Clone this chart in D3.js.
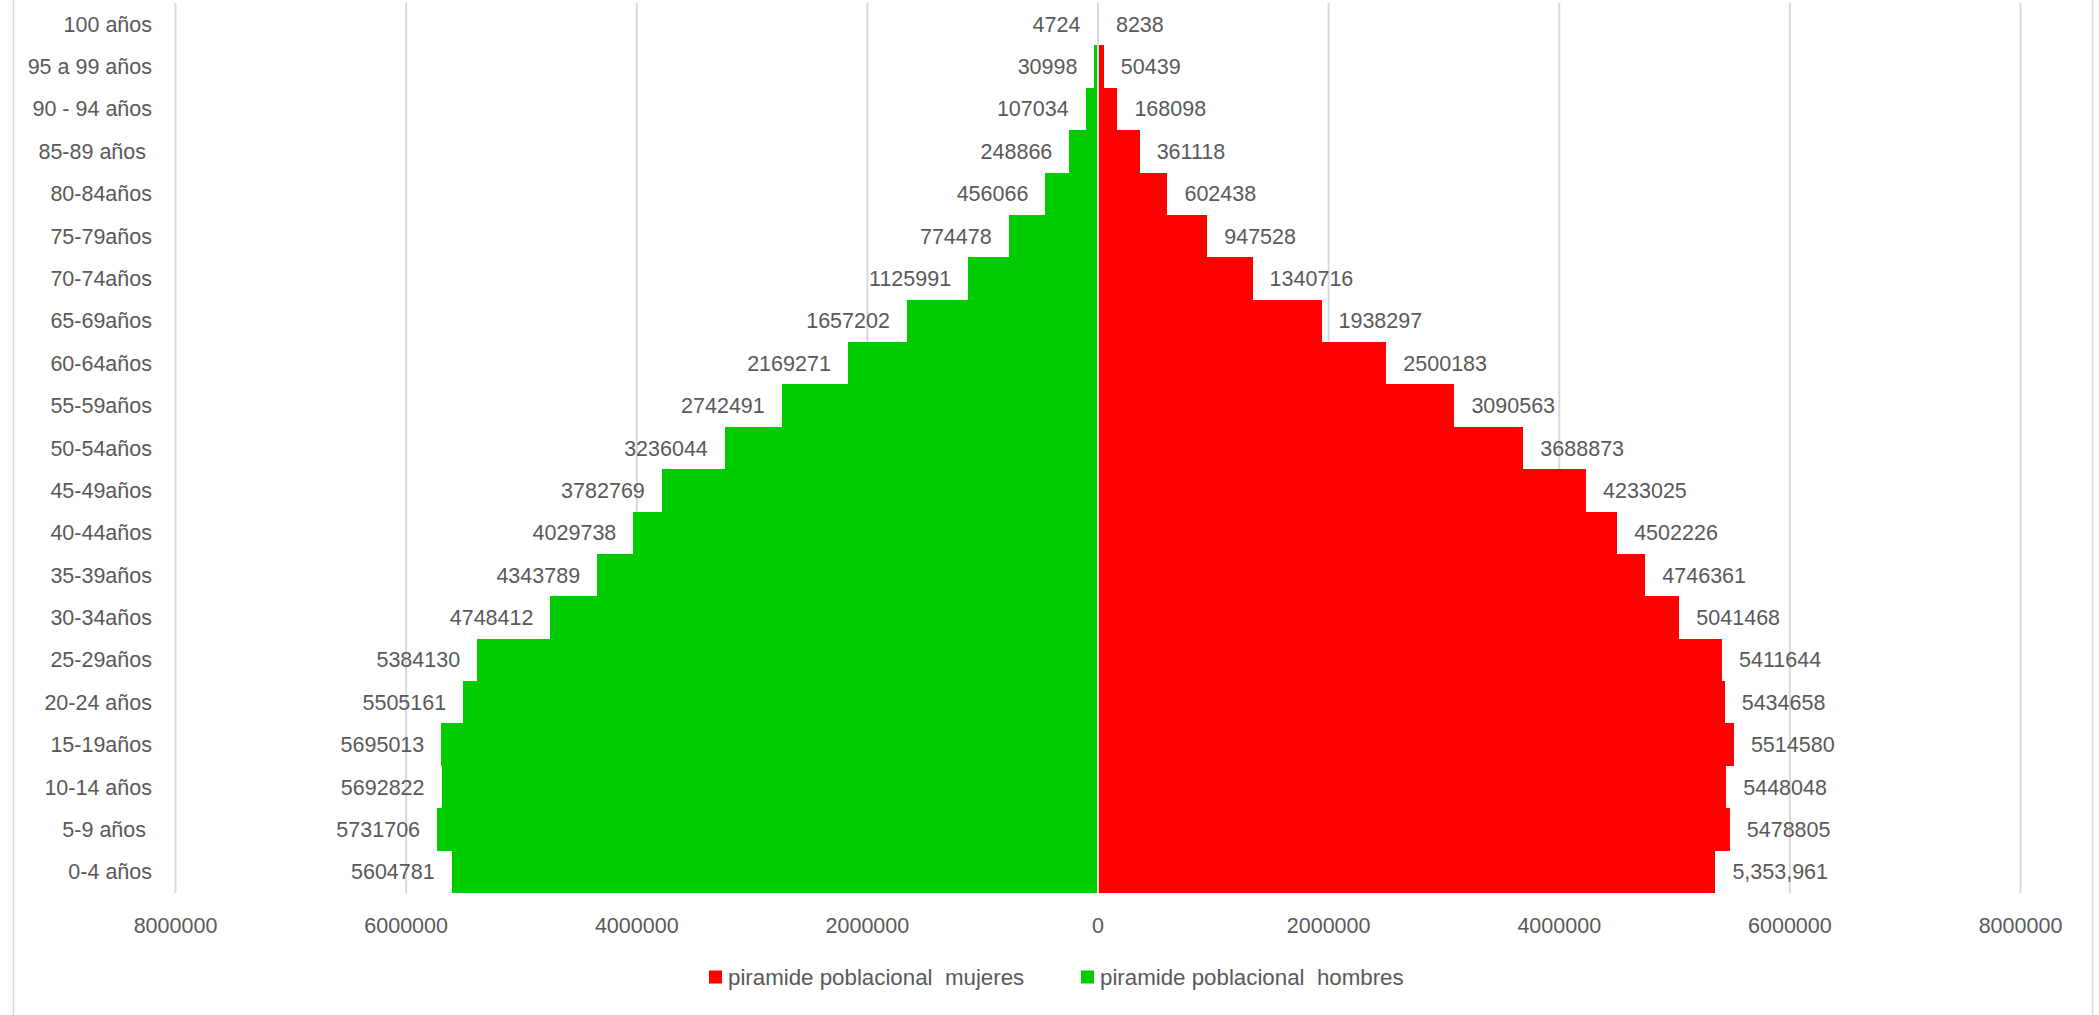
<!DOCTYPE html>
<html>
<head>
<meta charset="utf-8">
<script src="https://cdn.jsdelivr.net/npm/d3@7"></script>
<style>
  html, body { margin: 0; padding: 0; background: #fff; }
  svg text { font-family: "Liberation Sans", Arial, sans-serif; fill: #595959; white-space: pre; }
</style>
</head>
<body>
<svg id="chart" width="2099" height="1015"></svg>
<script>
const categories = ["100 años", "95 a 99 años", "90 - 94 años", "85-89 años ", "80-84años", "75-79años",
  "70-74años", "65-69años", "60-64años", "55-59años", "50-54años", "45-49años", "40-44años",
  "35-39años", "30-34años", "25-29años", "20-24 años", "15-19años", "10-14 años", "5-9 años ", "0-4 años"];
const hombres = [4724, 30998, 107034, 248866, 456066, 774478, 1125991, 1657202, 2169271, 2742491,
  3236044, 3782769, 4029738, 4343789, 4748412, 5384130, 5505161, 5695013, 5692822, 5731706, 5604781];
const mujeres = [8238, 50439, 168098, 361118, 602438, 947528, 1340716, 1938297, 2500183, 3090563,
  3688873, 4233025, 4502226, 4746361, 5041468, 5411644, 5434658, 5514580, 5448048, 5478805, 5353961];
const mujeresLabels = ["8238", "50439", "168098", "361118", "602438", "947528", "1340716", "1938297",
  "2500183", "3090563", "3688873", "4233025", "4502226", "4746361", "5041468", "5411644", "5434658",
  "5514580", "5448048", "5478805", "5,353,961"];
const xTicks = [-8000000, -6000000, -4000000, -2000000, 0, 2000000, 4000000, 6000000, 8000000];
const seriesNames = ["piramide poblacional  mujeres", "piramide poblacional  hombres"];
const colors = { mujeres: "#FF0000", hombres: "#00CC00" };

const svg = d3.select("#chart");
const W = 2099, H = 1015;
const plot = { left: 175.5, right: 2020.5, top: 3, bottom: 893 };

const x = d3.scaleLinear().domain([-8000000, 8000000]).range([plot.left, plot.right]);
const y = d3.scaleBand().domain(categories).range([plot.top, plot.bottom]).padding(0);

// chart border (left/right only visible)
svg.append("line").attr("x1", 13.5).attr("x2", 13.5).attr("y1", 0).attr("y2", H)
  .attr("stroke", "#d9d9d9").attr("stroke-width", 1.5);
svg.append("line").attr("x1", 2092.5).attr("x2", 2092.5).attr("y1", 0).attr("y2", H)
  .attr("stroke", "#d9d9d9").attr("stroke-width", 1.5);

// gridlines
svg.append("g").selectAll("line").data(xTicks.filter(d => d !== 0)).join("line")
  .attr("x1", d => x(d)).attr("x2", d => x(d))
  .attr("y1", plot.top).attr("y2", plot.bottom)
  .attr("stroke", "#d9d9d9").attr("stroke-width", 2);

// bars
const bars = svg.append("g").attr("shape-rendering", "crispEdges");
bars.selectAll("rect.h").data(categories).join("rect").attr("class", "h")
  .attr("x", (d, i) => x(-hombres[i]))
  .attr("width", (d, i) => x(0) - x(-hombres[i]))
  .attr("y", d => y(d)).attr("height", y.bandwidth())
  .attr("fill", colors.hombres);
bars.selectAll("rect.m").data(categories).join("rect").attr("class", "m")
  .attr("x", x(0))
  .attr("width", (d, i) => x(mujeres[i]) - x(0))
  .attr("y", d => y(d)).attr("height", y.bandwidth())
  .attr("fill", colors.mujeres);

// zero axis line
svg.append("line").attr("x1", x(0)).attr("x2", x(0))
  .attr("y1", plot.top).attr("y2", plot.bottom)
  .attr("stroke", "#d9d9d9").attr("stroke-width", 2);

// data labels
const fs = 21.5, gap = 17;
svg.append("g").selectAll("text").data(categories).join("text")
  .attr("x", (d, i) => x(-hombres[i]) - gap)
  .attr("y", d => y(d) + y.bandwidth() / 2)
  .attr("dy", "0.35em").attr("text-anchor", "end").attr("font-size", fs)
  .text((d, i) => String(hombres[i]));
svg.append("g").selectAll("text").data(categories).join("text")
  .attr("x", (d, i) => x(mujeres[i]) + gap)
  .attr("y", d => y(d) + y.bandwidth() / 2)
  .attr("dy", "0.35em").attr("text-anchor", "start").attr("font-size", fs)
  .text((d, i) => mujeresLabels[i]);

// category labels
svg.append("g").selectAll("text").data(categories).join("text")
  .attr("x", 152)
  .attr("y", d => y(d) + y.bandwidth() / 2)
  .attr("dy", "0.35em").attr("text-anchor", "end").attr("font-size", fs)
  .text(d => d);

// x axis tick labels
svg.append("g").selectAll("text").data(xTicks).join("text")
  .attr("x", d => x(d)).attr("y", 925)
  .attr("dy", "0.35em").attr("text-anchor", "middle").attr("font-size", fs)
  .text(d => String(Math.abs(d)));

// legend
const legend = [
  { name: seriesNames[0], color: colors.mujeres, x: 709 },
  { name: seriesNames[1], color: colors.hombres, x: 1081 }
];
const lg = svg.append("g").selectAll("g").data(legend).join("g")
  .attr("transform", d => `translate(${d.x},977)`);
lg.append("rect").attr("x", 0).attr("y", -6.5).attr("width", 13).attr("height", 13).attr("fill", d => d.color);
lg.append("text").attr("x", 19).attr("y", 0).attr("dy", "0.35em").attr("font-size", 22.3).text(d => d.name);
</script>
</body>
</html>
